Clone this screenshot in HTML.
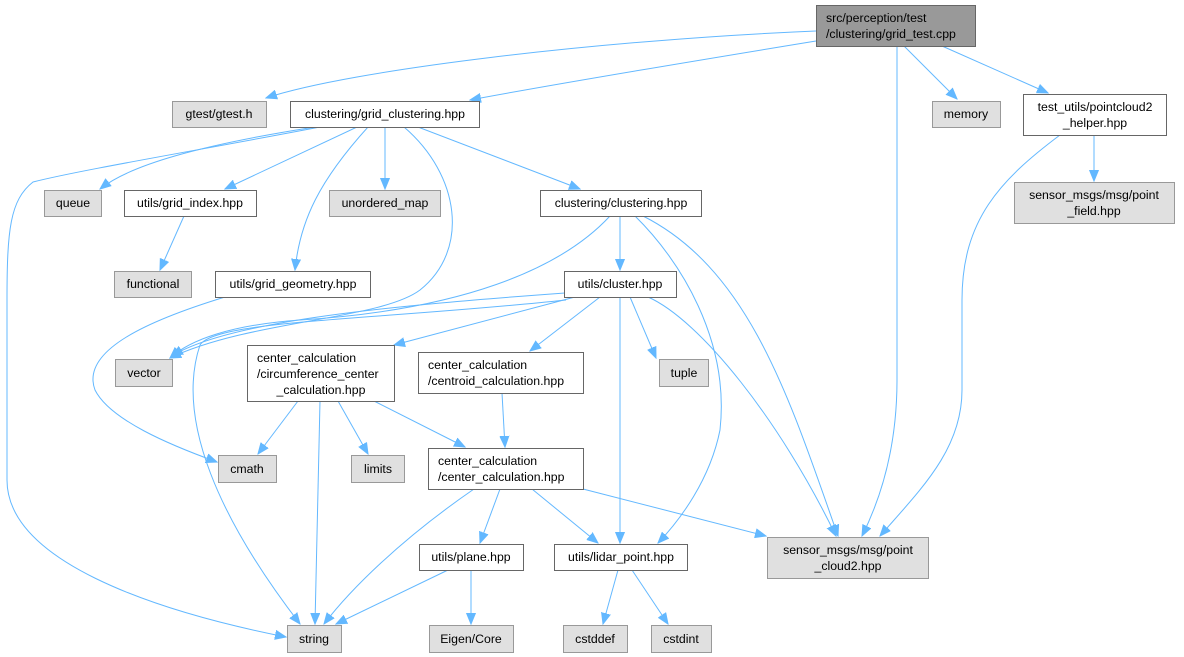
<!DOCTYPE html>
<html><head><meta charset="utf-8"><style>
html,body{margin:0;padding:0;background:#fff;}
svg{display:block;}
text{font-family:"Liberation Sans",Arial,sans-serif;font-size:12.3px;fill:#000;}
.w{fill:#fff;stroke:#666;stroke-width:1;}
.g{fill:#e0e0e0;stroke:#999;stroke-width:1;}
.d{fill:#999;stroke:#666;stroke-width:1;}
.e{fill:none;stroke:#63b8ff;stroke-width:1;marker-end:url(#a);}
</style></head><body>
<svg width="1184" height="657" viewBox="0 0 1184 657" xmlns="http://www.w3.org/2000/svg">
<defs><marker id="a" markerUnits="userSpaceOnUse" markerWidth="12" markerHeight="10" refX="11" refY="5" orient="auto"><path d="M0,0.5 L11,5 L0,9.5 z" fill="#63b8ff" stroke="#63b8ff"/></marker></defs>
<g>
<path class="e" d="M816,31 C600,40 350,70 266,98"/>
<path class="e" d="M816,41 C700,60 550,85 470,100"/>
<path class="e" d="M897,46 L897,380 C897,450 880,500 862,536"/>
<path class="e" d="M904,46 L957,99"/>
<path class="e" d="M942,46 L1048,93"/>
<path class="e" d="M1094,135 L1094,181"/>
<path class="e" d="M1060,135 C1000,180 962,220 962,300 L962,390 C962,450 920,490 880,536"/>
<path class="e" d="M320,127 C200,150 80,170 33,182 C10,200 7,230 7,300 L7,480 C7,560 150,610 286,637"/>
<path class="e" d="M315,127 C200,145 130,165 100,189"/>
<path class="e" d="M357,127 L225,189"/>
<path class="e" d="M368,127 C320,180 300,220 295,270"/>
<path class="e" d="M385,127 L385,189"/>
<path class="e" d="M404,127 C460,175 470,250 420,290 C380,320 250,320 170,358"/>
<path class="e" d="M418,127 L580,189"/>
<path class="e" d="M184,216 L160,270"/>
<path class="e" d="M225,297 C150,320 80,350 95,390 C110,420 170,445 217,462"/>
<path class="e" d="M610,216 C560,270 460,310 300,320 C230,325 190,340 170,358"/>
<path class="e" d="M620,216 L620,270"/>
<path class="e" d="M635,216 C680,260 730,340 720,430 C710,480 680,520 658,543"/>
<path class="e" d="M643,216 C750,270 790,400 838,536"/>
<path class="e" d="M565,293 C400,305 230,320 172,356"/>
<path class="e" d="M566,300 C380,320 215,320 200,345 C175,420 220,520 300,624"/>
<path class="e" d="M575,297 L394,345"/>
<path class="e" d="M600,297 L530,351"/>
<path class="e" d="M620,297 L620,543"/>
<path class="e" d="M630,297 L656,358"/>
<path class="e" d="M648,297 C700,320 780,420 836,536"/>
<path class="e" d="M298,401 L258,454"/>
<path class="e" d="M320,401 L315,624"/>
<path class="e" d="M338,401 L368,454"/>
<path class="e" d="M374,401 L465,447"/>
<path class="e" d="M502,393 L505,447"/>
<path class="e" d="M474,489 C400,540 350,590 324,624"/>
<path class="e" d="M500,489 L480,543"/>
<path class="e" d="M532,489 L598,543"/>
<path class="e" d="M583,489 L766,536"/>
<path class="e" d="M448,570 L336,624"/>
<path class="e" d="M471,570 L471,624"/>
<path class="e" d="M618,570 L603,624"/>
<path class="e" d="M632,570 L668,624"/>
</g>
<g>
<rect class="d" x="816.5" y="5.5" width="159" height="41"/>
<text x="826" y="22">src/perception/test</text><text x="826" y="38">/clustering/grid_test.cpp</text>
<rect class="g" x="172.5" y="101.5" width="94" height="26"/><text x="219" y="118" text-anchor="middle">gtest/gtest.h</text>
<rect class="w" x="290.5" y="101.5" width="189" height="26"/><text x="385" y="118" text-anchor="middle">clustering/grid_clustering.hpp</text>
<rect class="g" x="932.5" y="101.5" width="68" height="26"/><text x="966" y="118" text-anchor="middle">memory</text>
<rect class="w" x="1023.5" y="94.5" width="143" height="41"/><text x="1095" y="111" text-anchor="middle">test_utils/pointcloud2</text><text x="1095" y="127" text-anchor="middle">_helper.hpp</text>
<rect class="g" x="44.5" y="190.5" width="57" height="26"/><text x="73" y="207" text-anchor="middle">queue</text>
<rect class="w" x="124.5" y="190.5" width="132" height="26"/><text x="190" y="207" text-anchor="middle">utils/grid_index.hpp</text>
<rect class="g" x="329.5" y="190.5" width="111" height="26"/><text x="385" y="207" text-anchor="middle">unordered_map</text>
<rect class="w" x="540.5" y="190.5" width="161" height="26"/><text x="621" y="207" text-anchor="middle">clustering/clustering.hpp</text>
<rect class="g" x="1014.5" y="182.5" width="160" height="41"/><text x="1094" y="199" text-anchor="middle">sensor_msgs/msg/point</text><text x="1094" y="215" text-anchor="middle">_field.hpp</text>
<rect class="g" x="114.5" y="271.5" width="77" height="26"/><text x="153" y="288" text-anchor="middle">functional</text>
<rect class="w" x="215.5" y="271.5" width="155" height="26"/><text x="293" y="288" text-anchor="middle">utils/grid_geometry.hpp</text>
<rect class="w" x="564.5" y="271.5" width="112" height="26"/><text x="620" y="288" text-anchor="middle">utils/cluster.hpp</text>
<rect class="g" x="115.5" y="359.5" width="57" height="27"/><text x="144" y="377" text-anchor="middle">vector</text>
<rect class="w" x="247.5" y="345.5" width="147" height="56"/><text x="257" y="362">center_calculation</text><text x="257" y="378">/circumference_center</text><text x="321" y="394" text-anchor="middle">_calculation.hpp</text>
<rect class="w" x="418.5" y="352.5" width="165" height="41"/><text x="428" y="369">center_calculation</text><text x="428" y="385">/centroid_calculation.hpp</text>
<rect class="g" x="659.5" y="359.5" width="49" height="27"/><text x="684" y="377" text-anchor="middle">tuple</text>
<rect class="g" x="218.5" y="455.5" width="58" height="27"/><text x="247" y="473" text-anchor="middle">cmath</text>
<rect class="g" x="351.5" y="455.5" width="53" height="27"/><text x="378" y="473" text-anchor="middle">limits</text>
<rect class="w" x="428.5" y="448.5" width="155" height="41"/><text x="438" y="465">center_calculation</text><text x="438" y="481">/center_calculation.hpp</text>
<rect class="g" x="767.5" y="537.5" width="161" height="41"/><text x="848" y="554" text-anchor="middle">sensor_msgs/msg/point</text><text x="848" y="570" text-anchor="middle">_cloud2.hpp</text>
<rect class="w" x="419.5" y="544.5" width="104" height="26"/><text x="471" y="561" text-anchor="middle">utils/plane.hpp</text>
<rect class="w" x="554.5" y="544.5" width="133" height="26"/><text x="621" y="561" text-anchor="middle">utils/lidar_point.hpp</text>
<rect class="g" x="287.5" y="625.5" width="54" height="27"/><text x="314" y="643" text-anchor="middle">string</text>
<rect class="g" x="429.5" y="625.5" width="84" height="27"/><text x="471" y="643" text-anchor="middle">Eigen/Core</text>
<rect class="g" x="563.5" y="625.5" width="64" height="27"/><text x="595" y="643" text-anchor="middle">cstddef</text>
<rect class="g" x="651.5" y="625.5" width="60" height="27"/><text x="681" y="643" text-anchor="middle">cstdint</text>
</g>
</svg>
</body></html>
